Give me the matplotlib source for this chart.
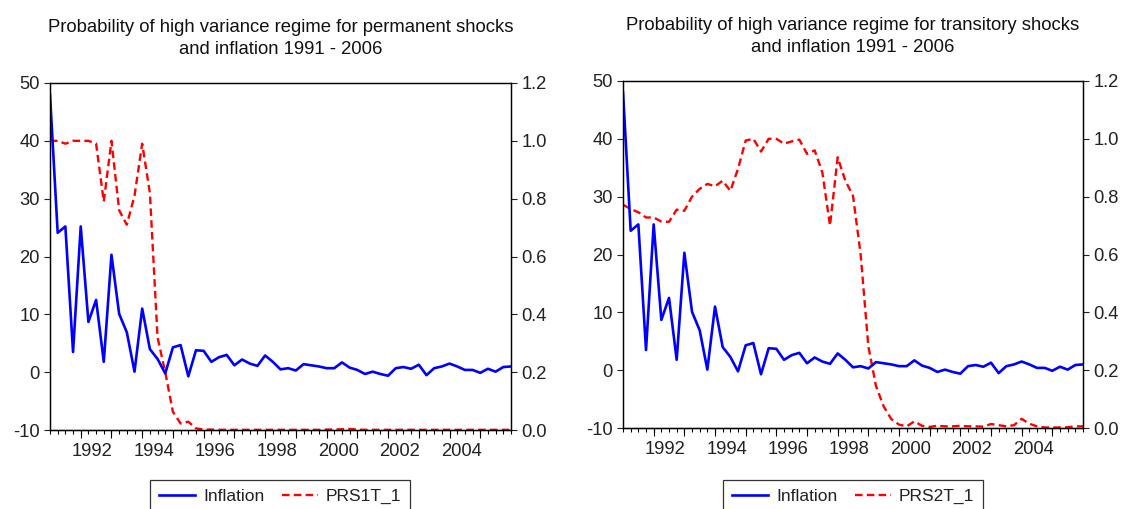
import numpy as np
import matplotlib
matplotlib.use('Agg')
import matplotlib.pyplot as plt

plt.rcParams['font.family'] = ['Liberation Sans', 'DejaVu Sans']
plt.rcParams['axes.unicode_minus'] = False

# quarterly observations 1991Q1 - 2006Q1
start_year = 1991
inflation = [48.0, 24.1, 25.2, 3.5, 25.2, 8.7, 12.5, 1.8, 20.3, 10.1,
             6.9, 0.1, 11.0, 4.0, 2.3, -0.2, 4.3, 4.7, -0.7, 3.8,
             3.7, 1.8, 2.6, 3.0, 1.2, 2.2, 1.5, 1.1, 2.9, 1.8,
             0.5, 0.7, 0.3, 1.4, 1.2, 1.0, 0.7, 0.7, 1.7, 0.8,
             0.4, -0.3, 0.1, -0.3, -0.6, 0.7, 0.9, 0.6, 1.3, -0.5,
             0.7, 1.0, 1.5, 1.0, 0.4, 0.4, -0.1, 0.6, 0.1, 0.9, 1.0]
prs1 = [1.0, 1.0, 0.99, 1.0, 1.0, 1.0, 0.99, 0.79, 1.0, 0.76,
        0.71, 0.81, 0.99, 0.82, 0.32, 0.2, 0.063, 0.023, 0.029, 0.006,
        0.002, 0.002, 0.001, 0.001, 0.001, 0.001, 0.001, 0.001, 0.001, 0.001,
        0.001, 0.001, 0.001, 0.001, 0.001, 0.001, 0.002, 0.002, 0.003, 0.004,
        0.002, 0.001, 0.001, 0.001, 0.001, 0.001, 0.001, 0.001, 0.001, 0.001,
        0.001, 0.001, 0.001, 0.001, 0.001, 0.001, 0.001, 0.001, 0.001, 0.001, 0.001]
prs2 = [0.772, 0.757, 0.746, 0.728, 0.728, 0.714, 0.713, 0.755, 0.751, 0.80,
        0.827, 0.844, 0.836, 0.855, 0.82, 0.896, 0.994, 1.0, 0.956, 1.0,
        1.0, 0.983, 0.991, 0.997, 0.948, 0.96, 0.884, 0.70, 0.936, 0.855,
        0.803, 0.60, 0.283, 0.145, 0.075, 0.031, 0.012, 0.006, 0.023, 0.008,
        0.004, 0.008, 0.006, 0.006, 0.008, 0.006, 0.006, 0.005, 0.014, 0.01,
        0.006, 0.01, 0.032, 0.015, 0.006, 0.002, 0.002, 0.002, 0.003, 0.006, 0.006]
titles = ['Probability of high variance regime for permanent shocks\nand inflation 1991 - 2006',
          'Probability of high variance regime for transitory shocks\nand inflation 1991 - 2006']
prob_names = ['PRS1T_1', 'PRS2T_1']
label_years = [1992, 1994, 1996, 1998, 2000, 2002, 2004]

x = start_year + np.arange(len(inflation)) / 4.0

fig = plt.figure(figsize=(11.26, 5.09), dpi=100)
boxes = [[0.0444, 0.155, 0.4094, 0.682], [0.5533, 0.159, 0.4085, 0.682]]

for k, prs in enumerate([prs1, prs2]):
    ax = fig.add_axes(boxes[k])
    ax2 = ax.twinx()
    l1, = ax.plot(x, inflation, color='#0000ff', lw=1.9, label='Inflation')
    l2, = ax2.plot(x, prs, color='#ff0000', lw=1.7, dashes=(3.2, 1.8), label=prob_names[k])
    ax.set_zorder(ax2.get_zorder() + 1)
    ax.patch.set_visible(False)

    ax.set_xlim(x[0], x[-1])
    ax.set_ylim(-10, 50)
    ax2.set_ylim(0, 1.2)
    ax.set_yticks(range(-10, 51, 10))
    ax2.set_yticks(np.arange(0, 1.21, 0.2))
    ax2.set_yticklabels(['%.1f' % v for v in np.arange(0, 1.21, 0.2)])

    # labels centred on each year, quarter ticks, longer ticks at year starts
    ax.set_xticks([y + 0.375 for y in label_years])
    ax.set_xticklabels([str(y) for y in label_years])
    ax.set_xticks(np.arange(x[0], x[-1] + 0.01, 0.25), minor=True)
    ax.tick_params(axis='x', which='major', length=0, pad=9)
    ax.tick_params(axis='x', which='minor', direction='out', length=2.7, width=0.8)
    sec = ax.secondary_xaxis('bottom')
    sec.set_xticks(list(range(1992, 2006)))
    sec.tick_params(axis='x', direction='out', length=5.5, width=0.8, labelbottom=False)

    for a in (ax, ax2):
        a.tick_params(axis='both', which='major', labelsize=13.2, colors='#222222')
        a.tick_params(axis='y', direction='out', length=4.5, width=0.8, pad=3)
        for s in a.spines.values():
            s.set_linewidth(0.9)

    ax.set_title(titles[k], fontsize=13.3, linespacing=1.38, pad=21, color='#111111')

    leg_x = [150 / 1126, 723 / 1126][k]
    leg = fig.legend([l1, l2], ['Inflation', prob_names[k]], loc='upper left',
                     bbox_to_anchor=(leg_x, 1 - 480 / 509), borderaxespad=0, ncol=2,
                     frameon=True, fancybox=False, edgecolor='#000000', fontsize=12.5,
                     handlelength=2.1, handletextpad=0.45, columnspacing=1.0,
                     borderpad=0.5)
    leg.get_frame().set_linewidth(0.9)
    for t in leg.get_texts():
        t.set_color('#222222')

fig.savefig('out.png', dpi=100)
